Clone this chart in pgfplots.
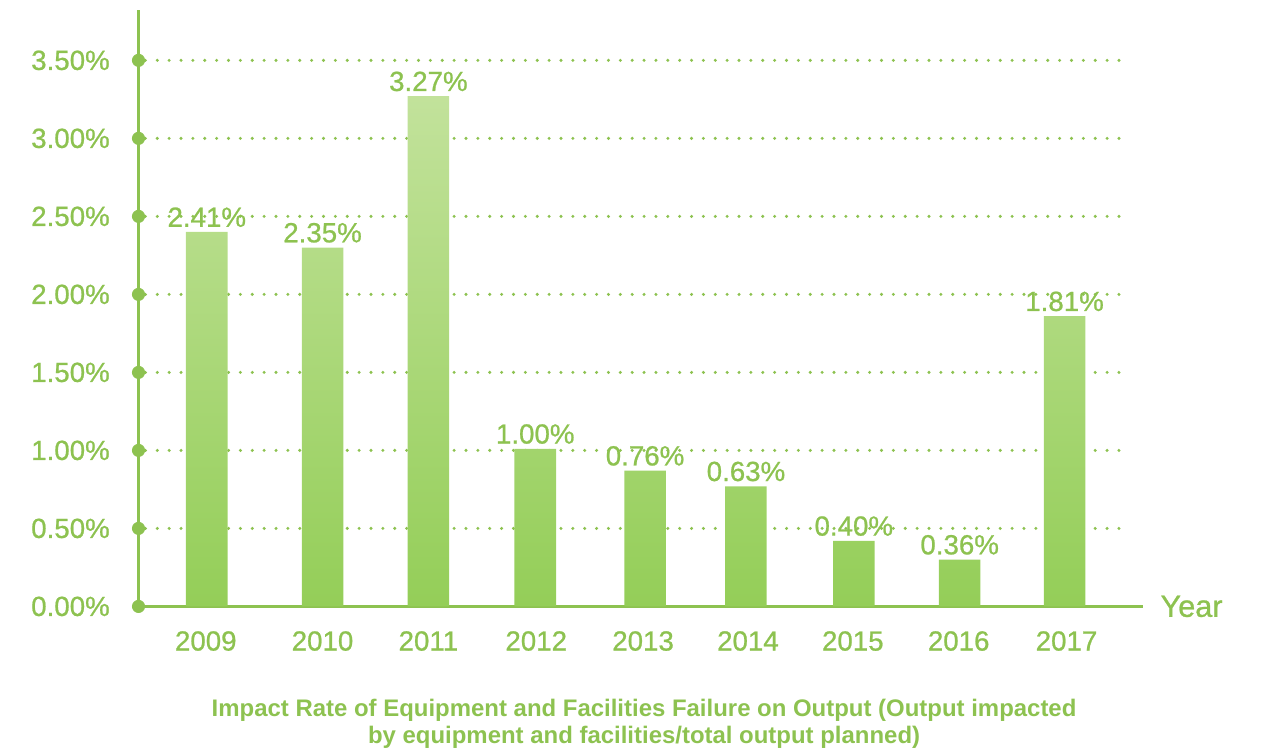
\documentclass[border=0pt]{standalone}
\usepackage{pgfplots}
\pgfplotsset{compat=1.18}
\usepackage{fontspec}
\setmainfont{Liberation Sans}
\newfontfamily\tfont[FakeBold=0.8]{Liberation Sans}
\definecolor{lgreen}{RGB}{141,194,80}
\definecolor{bartop}{RGB}{194,226,155}
\definecolor{barbot}{RGB}{148,206,88}

\begin{document}
\begin{tikzpicture}
\begin{axis}[
  scale only axis,
  width=507.5pt, height=301.2pt,
  xmin=140, xmax=1155, ymin=0, ymax=3.82,
  clip=false,
  axis x line=bottom, axis y line=left,
  axis line style={-, lgreen, line width=1.5pt},
  major tick length=0pt,
  xtick={208,326,433,542,650,756,862,969,1078},
  xticklabels={2009,2010,2011,2012,2013,2014,2015,2016,2017},
  ytick={0,0.5,1,1.5,2,2.5,3,3.5},
  yticklabels={0.00\%,0.50\%,1.00\%,1.50\%,2.00\%,2.50\%,3.00\%,3.50\%},
  tick label style={font=\tfont\fontsize{14}{16}\selectfont, text=lgreen},
  yticklabel style={xshift=-11pt},
  xticklabel style={yshift=-9pt},
  ybar, bar width=42,
  point meta=explicit symbolic,
  nodes near coords,
  every node near coord/.append style={font=\tfont\fontsize{14}{16}\selectfont, text=lgreen, yshift=-1pt},
]
% dotted grid
\pgfplotsinvokeforeach{0.5,1,1.5,2,2.5,3,3.5}{
  \addplot[sharp plot, no marks, nodes near coords={}, lgreen, line width=1.7pt, line cap=round, dash pattern=on 0pt off 6pt]
    coordinates {(147,#1)(1138,#1)};
}
\addplot[draw=none, top color=bartop, bottom color=barbot]
  coordinates {
    (209,2.40) [2.41\%]
    (326,2.30) [2.35\%]
    (433,3.27) [3.27\%]
    (541,1.01) [1.00\%]
    (652,0.87) [0.76\%]
    (754,0.77) [0.63\%]
    (863,0.42) [0.40\%]
    (970,0.30) [0.36\%]
    (1076,1.86) [1.81\%]
  };
\addplot[only marks, mark=*, mark size=3.1pt, lgreen, nodes near coords={}]
  coordinates {(140,0)(140,0.5)(140,1)(140,1.5)(140,2)(140,2.5)(140,3)(140,3.5)};
\node[anchor=west, text=lgreen, font=\tfont\fontsize{15.5}{18}\selectfont] at (axis cs:1166,0) {Year};
\node[align=center, text=lgreen, font=\bfseries\fontsize{12.1}{13.5}\selectfont] at (axis cs:651,-0.752)
  {Impact Rate of Equipment and Facilities Failure on Output (Output impacted\\by equipment and facilities/total output planned)};
\path (axis cs:0,-0.862) rectangle (axis cs:1269,3.887);
\end{axis}
\end{tikzpicture}
\end{document}
